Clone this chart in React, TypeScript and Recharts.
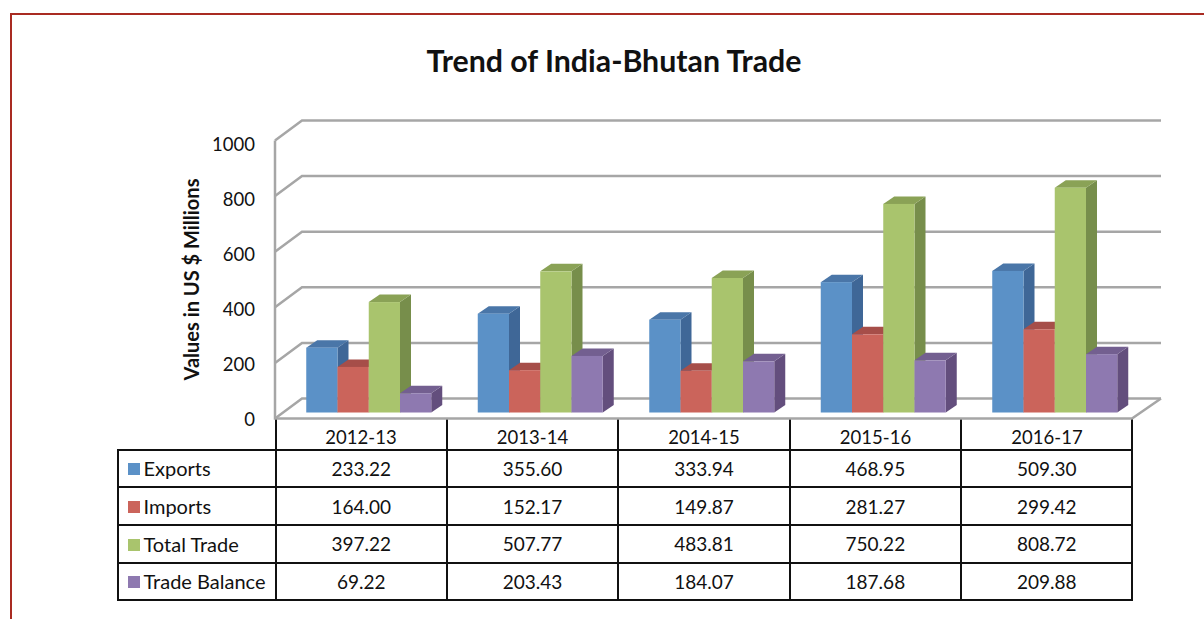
import React from 'react';
import { BarChart, Bar, XAxis, YAxis, CartesianGrid, Label } from 'recharts';

const years = ['2012-13', '2013-14', '2014-15', '2015-16', '2016-17'];
const exportsVals = [233.22, 355.6, 333.94, 468.95, 509.3];
const importsVals = [164.0, 152.17, 149.87, 281.27, 299.42];
const totalTrade = [397.22, 507.77, 483.81, 750.22, 808.72];
const tradeBalance = [69.22, 203.43, 184.07, 187.68, 209.88];
const yTicks = [0, 200, 400, 600, 800, 1000];

const series = [
  { name: 'Exports', values: exportsVals, front: '#5b91c7', top: '#4a76a8', side: '#3f6797' },
  { name: 'Imports', values: importsVals, front: '#cb645b', top: '#a64e49', side: '#8f423e' },
  { name: 'Total Trade', values: totalTrade, front: '#a9c46d', top: '#8aa256', side: '#778e4b' },
  { name: 'Trade Balance', values: tradeBalance, front: '#8e79b0', top: '#735f90', side: '#634e7d' },
];

const data = years.map((year, i) => ({
  year,
  Exports: exportsVals[i],
  Imports: importsVals[i],
  'Total Trade': totalTrade[i],
  'Trade Balance': tradeBalance[i],
}));

const FONT = 'Lato, Carlito, sans-serif';
const GRID = '#a6a6a6';

// fake 3d bar: front face plus top and side faces
function Bar3D(props: any) {
  const { x, y, width, height, front, top, side } = props;
  const dx = 11;
  const dy = 7.5;
  return (
    <g>
      <polygon points={`${x + width},${y} ${x + width + dx},${y - dy} ${x + width + dx},${y + height - dy} ${x + width},${y + height}`} fill={side} />
      <polygon points={`${x},${y} ${x + dx},${y - dy} ${x + width + dx},${y - dy} ${x + width},${y}`} fill={top} />
      <rect x={x} y={y} width={width} height={height} fill={front} />
    </g>
  );
}

// gridline runs along the left wall, then across the back wall
function WallLine(props: any) {
  const { y1, index } = props;
  const front = y1 + 6;
  const back = y1 - 14;
  const isFloor = Math.abs(y1 - 412.5) < 1;
  return (
    <g key={`wall-${index}`} fill="none" stroke={GRID} strokeWidth={2.5}>
      <polyline points={`275,${front} 302,${back} 1161,${back}`} />
      {isFloor && <polyline points={`1161,${back} 1132,${front} 275,${front} 275,${front - 278}`} />}
    </g>
  );
}

function YTick(props: any) {
  const { y, payload } = props;
  return (
    <text x={255} y={y + 7.5 + (payload.value / 1000) * 3} dy="0.35em" textAnchor="end" fontFamily={FONT} fontSize={18.5} fill="#111">
      {payload.value}
    </text>
  );
}

function XTick(props: any) {
  const { x, payload } = props;
  return (
    <text x={x - 8} y={439} textAnchor="middle" dominantBaseline="middle" fontFamily={FONT} fontSize={18.5} fill="#111">
      {payload.value}
    </text>
  );
}

const cell: React.CSSProperties = {
  border: '2px solid #111',
  padding: 0,
  textAlign: 'center',
  boxSizing: 'border-box',
  fontFamily: FONT,
  fontSize: 19,
  color: '#111',
};

function DataTable() {
  return (
    <table
      style={{
        position: 'absolute',
        left: 116.5,
        top: 418.5,
        borderCollapse: 'collapse',
        tableLayout: 'fixed',
        width: 1015,
      }}
    >
      <colgroup>
        <col style={{ width: 158 }} />
        {years.map((y) => (
          <col key={y} style={{ width: 171.4 }} />
        ))}
      </colgroup>
      <tbody>
        <tr style={{ height: 31 }}>
          <td style={{ ...cell, border: 'none', borderBottom: '2px solid #111', borderRight: '2px solid #111' }} />
          {years.map((y) => (
            <td key={y} style={{ ...cell, borderTop: 'none' }} />
          ))}
        </tr>
        {series.map((s) => (
          <tr key={s.name} style={{ height: 37.7 }}>
            <td style={{ ...cell, textAlign: 'left', whiteSpace: 'nowrap', fontSize: 20 }}>
              <span style={{ display: 'inline-block', width: 12, height: 12, background: s.front, margin: '0 4px 1px 9px' }} />
              {s.name}
            </td>
            {s.values.map((v, i) => (
              <td key={i} style={cell}>
                {v.toFixed(2)}
              </td>
            ))}
          </tr>
        ))}
      </tbody>
    </table>
  );
}

export default function App() {
  return (
    <div style={{ position: 'absolute', left: 0, top: 0, width: 1204, height: 619, overflow: 'hidden', background: '#fff' }}>
      <div style={{ position: 'absolute', left: 10, top: 13, width: 1200, height: 620, borderTop: '2px solid #a92b22', borderLeft: '2px solid #a92b22' }} />
      <div
        style={{
          position: 'absolute',
          left: 214,
          width: 800,
          top: 41,
          textAlign: 'center',
          fontFamily: FONT,
          fontWeight: 700,
          fontSize: 30.3,
          lineHeight: '38px',
          color: '#111',
        }}
      >
        Trend of India-Bhutan Trade
      </div>
      <DataTable />
      <div style={{ position: 'absolute', left: 0, top: 0 }}>
        <BarChart
          width={1204}
          height={619}
          data={data}
          margin={{ top: 134.5, right: 63.25, bottom: 176.5, left: 173.25 }}
          barSize={31.25}
          barGap={0}
        >
          <CartesianGrid vertical={false} horizontal={WallLine as any} />
          <XAxis dataKey="year" height={30} axisLine={false} tickLine={false} tick={<XTick />} interval={0} />
          <YAxis width={110} domain={[0, 1000]} ticks={yTicks} axisLine={false} tickLine={false} tick={<YTick />} interval={0}>
            <Label
              value="Values in US $ Millions"
              angle={-90}
              position="insideLeft"
              offset={19}
              dy={6}
              style={{ textAnchor: 'middle', fontFamily: FONT, fontWeight: 700, fontSize: 20, fill: '#111' }}
            />
          </YAxis>
          {series.map((s) => (
            <Bar
              key={s.name}
              dataKey={s.name}
              fill={s.front}
              isAnimationActive={false}
              shape={(p: any) => <Bar3D {...p} front={s.front} top={s.top} side={s.side} />}
            />
          ))}
        </BarChart>
      </div>
    </div>
  );
}
